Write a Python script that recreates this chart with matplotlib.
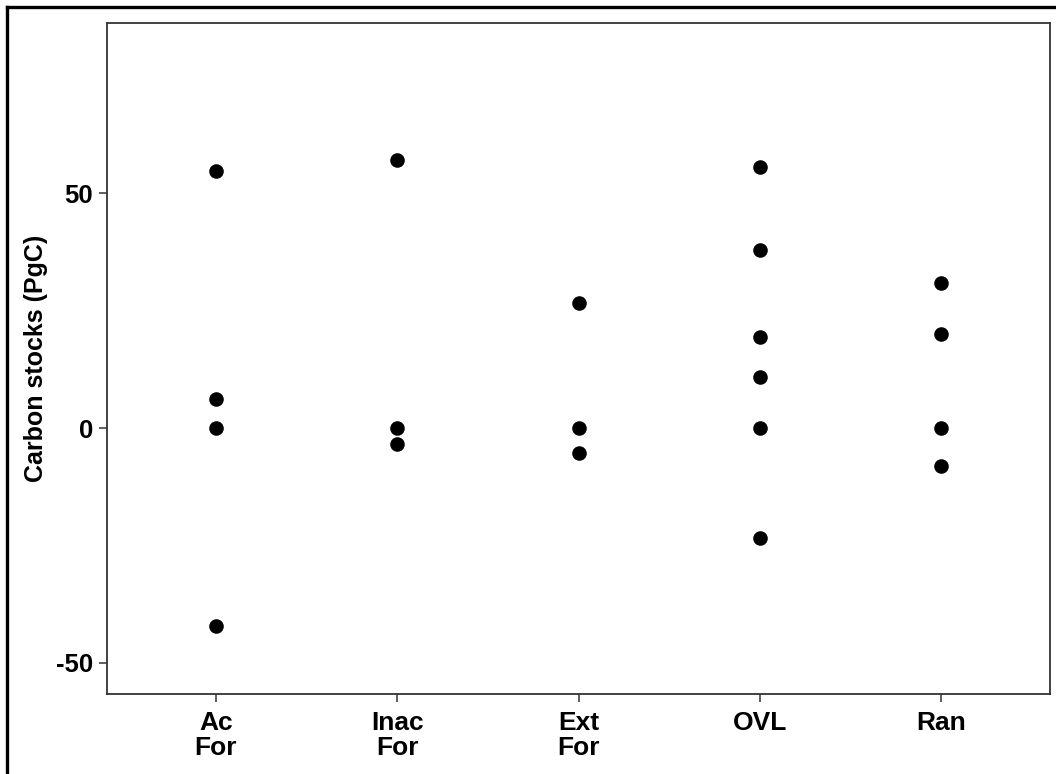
import matplotlib
matplotlib.use("Agg")
import matplotlib.pyplot as plt
from matplotlib.lines import Line2D

categories = ["Ac\nFor", "Inac\nFor", "Ext\nFor", "OVL", "Ran"]
values = [
    [54.7, 6.2, 0.0, -42.2],
    [57.0, 0.0, -3.4],
    [26.7, 0.0, -5.4],
    [55.6, 37.9, 19.3, 10.8, 0.0, -23.4],
    [30.9, 20.0, 0.0, -8.0],
]
yticks = [-50, 0, 50]

plt.rcParams['font.family'] = ['Liberation Sans', 'DejaVu Sans']

fig = plt.figure(figsize=(10.56, 7.74), dpi=100)
ax = fig.add_axes([107/1056, 1 - 694/774, (1050-107)/1056, (694-23)/774])

for i, vals in enumerate(values):
    ax.scatter([i]*len(vals), vals, s=110, color='black', zorder=3, linewidths=0)

ax.set_xlim(-0.6, len(categories) - 1 + 0.6)
ax.set_ylim(-56.6, 86.2)
ax.set_xticks(range(len(categories)))
ax.set_xticklabels(categories, fontsize=19, fontweight='bold', linespacing=1.05)
ax.set_yticks(yticks)
ax.set_yticklabels([str(t) for t in yticks], fontsize=18.5, fontweight='bold')
ax.tick_params(axis='both', length=6, width=1.1, color='#333333', labelcolor='black')
ax.tick_params(axis='x', pad=6)
ax.tick_params(axis='y', pad=4)
for sp in ax.spines.values():
    sp.set_color('#333333')
    sp.set_linewidth(1.3)
ax.set_ylabel("Carbon stocks (PgC)", fontsize=18, fontweight='bold', labelpad=6)

# outer frame (top and left visible)
fig.add_artist(Line2D([7/1056, 1.0], [1 - 7/774, 1 - 7/774], transform=fig.transFigure,
                      color='black', linewidth=2.4))
fig.add_artist(Line2D([7/1056, 7/1056], [0.0, 1 - 7/774], transform=fig.transFigure,
                      color='black', linewidth=2.4))

fig.savefig("out.png", dpi=100)
